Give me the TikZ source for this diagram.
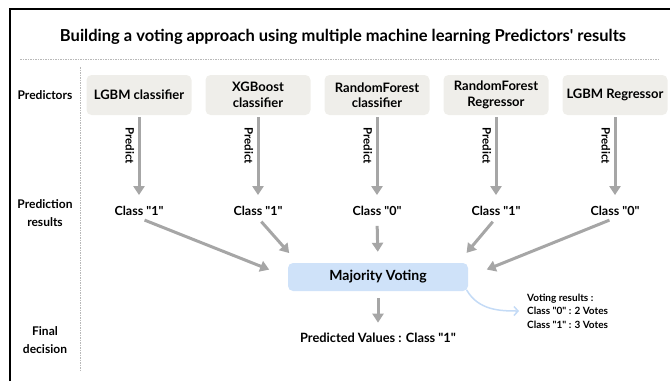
\documentclass[tikz,border=0pt]{standalone}
\usepackage{fontspec}
\setmainfont{Lato}[Ligatures=TeXOff]
\usetikzlibrary{arrows.meta,calc}

\definecolor{arrowgray}{HTML}{A6A6A6}
\definecolor{boxgray}{HTML}{EFEEEA}
\definecolor{voteblue}{HTML}{CFE2F9}
\definecolor{curveblue}{HTML}{C4DBF6}
\definecolor{rulegray}{HTML}{B8B8B8}

\tikzset{
  predbox/.style={fill=boxgray, rounded corners=5pt, minimum width=105pt,
    minimum height=40pt, align=center, inner sep=1pt,
    font=\fontsize{13}{15.5}\selectfont\bfseries},
  rowlabel/.style={align=center, font=\fontsize{12}{18}\selectfont\bfseries},
  classlabel/.style={font=\fontsize{12.5}{14}\selectfont\bfseries, inner sep=2pt},
  grayarrow/.style={draw=arrowgray, line width=3pt,
    -{Triangle[width=11pt,length=9pt]}},
  predictlabel/.style={rotate=-90, font=\fontsize{11.5}{13}\selectfont\bfseries},
  guide/.style={draw=rulegray, line width=0.6pt, dash pattern=on 1.5pt off 1pt},
}

\begin{document}
\begin{tikzpicture}[x=1pt, y=-1pt]
\useasboundingbox (0,0) rectangle (670,381);

% outer frame (open to the right and bottom)
\draw[line width=2pt] (10,381) -- (10,9) -- (670,9);

% title and separators
\node (title) at (343,37) {\fontsize{16.5}{18}\selectfont\bfseries Building a voting approach using multiple machine learning Predictors' results};
\draw[guide] (20,59) -- (659,59);
\draw[guide] (80,67) -- (80,372);

% row headings
\node[rowlabel] (r1) at (45,95) {Predictors};
\node[rowlabel] (r2) at (45,213) {Prediction\\results};
\node[rowlabel] (r3) at (45,340) {Final\\decision};

% predictors
\node[predbox] (p1) at (139,95) {LGBM classifier};
\node[predbox] (p2) at (258,95) {XGBoost\\classifier};
\node[predbox] (p3) at (377,95) {RandomForest\\classifier};
\node[predbox] (p4) at (496,95) {RandomForest\\Regressor};
\node[predbox] (p5) at (615,95) {LGBM Regressor};

% prediction results
\node[classlabel] (c1) at (139,211) {Class "1"};
\node[classlabel] (c2) at (258,211) {Class "1"};
\node[classlabel] (c3) at (377,211) {Class "0"};
\node[classlabel] (c4) at (496,211) {Class "1"};
\node[classlabel] (c5) at (615,211) {Class "0"};

% predict arrows
\foreach \i in {1,...,5}{
  \draw[grayarrow, shorten <=2pt, shorten >=9pt] (p\i.south) -- (c\i.north)
    node[predictlabel, pos=0.32, right=2pt, anchor=north] {Predict};
}

% voting
\node[fill=voteblue, rounded corners=5pt, minimum width=180pt, minimum height=28pt,
  font=\fontsize{14}{16}\selectfont\bfseries] (m) at (378,277) {Majority Voting};

\coordinate (mnw) at ($(m.north west)+(10,0)$);
\coordinate (mne) at ($(m.north east)+(-10,0)$);
\draw[grayarrow, shorten <=6pt, shorten >=20pt] (c1.south) -- (m.west);
\draw[grayarrow, shorten <=5pt, shorten >=13pt] (c2.south) -- (mnw);
\draw[grayarrow, shorten <=8pt, shorten >=11pt] (c3.south) -- (m.north);
\draw[grayarrow, shorten <=5pt, shorten >=13pt] (c4.south) -- (mne);
\draw[grayarrow, shorten <=6pt, shorten >=20pt] (c5.south) -- (m.east);

% final decision
\node[font=\fontsize{12.8}{15}\selectfont\bfseries] (pv) at (378,338) {Predicted Values : Class "1"};
\draw[grayarrow, shorten <=7pt, shorten >=7pt] (m.south) -- (pv.north);

% vote tally
\node[anchor=west, align=left, inner sep=2pt,
  font=\fontsize{10}{13.5}\selectfont\bfseries] (vr) at (525,311)
  {Voting results :\\Class "0" : 2 Votes\\Class "1" : 3 Votes};
\draw[curveblue, line width=1.5pt, -{Straight Barb[length=4pt,width=9pt]},
  shorten <=1pt, shorten >=6pt]
  ($(m.south east)+(-2,-2)$) to[out=-60, in=180] (vr.west);
\end{tikzpicture}
\end{document}
